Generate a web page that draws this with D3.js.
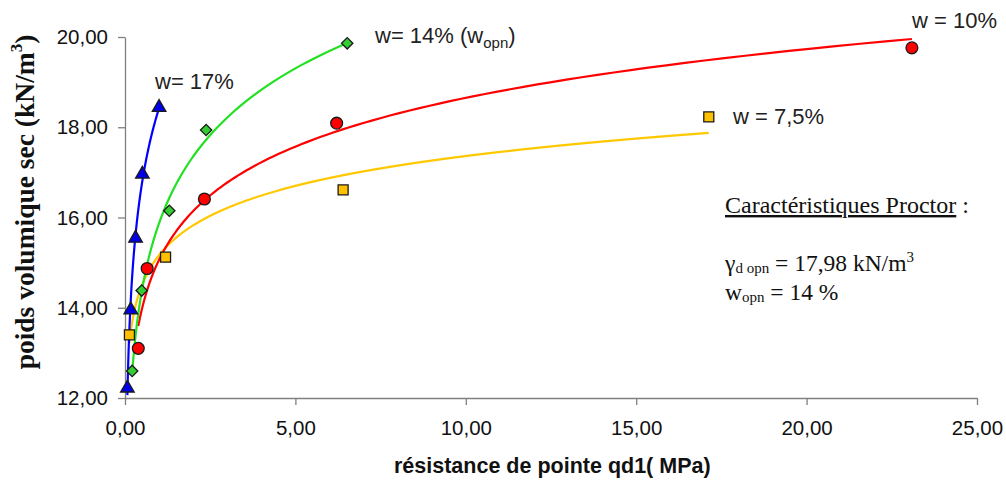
<!DOCTYPE html>
<html lang="fr">
<head>
  <meta charset="utf-8">
  <script src="https://d3js.org/d3.v7.min.js"></script>
  <style>
    body { margin: 0; background: #fff; }
    .axis path, .axis line { stroke: #808080; stroke-width: 1.3; }
    .axis text { font-family: "Liberation Sans", Arial, sans-serif; font-size: 20.5px; fill: #111; }
    .lbl { font-family: "Liberation Sans", Arial, sans-serif; font-size: 22px; fill: #222; }
    .serif { font-family: "Liberation Serif", "Times New Roman", serif; fill: #111; }
  </style>
</head>
<body>
<svg id="chart" width="1006" height="480"></svg>
<script>
  // Data (x: MPa, y: kN/m3)
  const w17x = [0.07, 0.17, 0.31, 0.51, 1.00];
  const w17y = [12.22, 13.95, 15.54, 16.96, 18.44];
  const w14x = [0.21, 0.49, 1.30, 2.38, 6.52];
  const w14y = [12.60, 14.38, 16.15, 17.94, 19.86];
  const w10x = [0.39, 0.65, 2.33, 6.21, 23.09];
  const w10y = [13.10, 14.87, 16.41, 18.09, 19.76];
  const w75x = [0.13, 1.19, 6.40, 17.13];
  const w75y = [13.40, 15.12, 16.61, 18.23];

  const xTicks = [0, 5, 10, 15, 20, 25];
  const yTicks = [12, 14, 16, 18, 20];

  const margin = { top: 37, right: 29, bottom: 82, left: 125 };
  const svgWidth = 1006, svgHeight = 480;
  const width = svgWidth - margin.left - margin.right;
  const height = svgHeight - margin.top - margin.bottom;

  const svg = d3.select("#chart");
  const g = svg.append("g").attr("transform", `translate(${margin.left},${margin.top})`);

  const x = d3.scaleLinear().domain([0, 25]).range([0, width]);
  const y = d3.scaleLinear().domain([12, 20]).range([height, 0]);

  const fr = d3.formatLocale({ decimal: ",", thousands: " ", grouping: [3], currency: ["", " €"] });
  const fmt = fr.format(".2f");

  // axes
  g.append("g")
    .attr("class", "axis")
    .attr("transform", `translate(0,${height})`)
    .call(d3.axisBottom(x).tickValues(xTicks).tickFormat(fmt).tickSize(7).tickSizeOuter(0))
    .selectAll("text").attr("dy", "1.3em");

  g.append("g")
    .attr("class", "axis")
    .call(d3.axisLeft(y).tickValues(yTicks).tickFormat(fmt).tickSize(7).tickSizeOuter(0))
    .selectAll("text").attr("x", -17);

  // logarithmic trend line (least squares y = a ln x + b), like the spreadsheet trendline
  function logFit(xs, ys) {
    const lx = xs.map(Math.log);
    const mx = d3.mean(lx), my = d3.mean(ys);
    const a = d3.sum(lx, (v, i) => (v - mx) * (ys[i] - my)) / d3.sum(lx, v => (v - mx) * (v - mx));
    const b = my - a * mx;
    const lo = d3.min(xs), hi = d3.max(xs);
    return d3.range(0, 121).map(i => {
      const xv = lo * Math.pow(hi / lo, i / 120);
      return [xv, a * Math.log(xv) + b];
    });
  }

  const series = [
    { xs: w17x, ys: w17y, line: "#0000ff", fill: "#0000e6", shape: d3.symbolTriangle, size: 80, rot: 0 },
    { xs: w14x, ys: w14y, line: "#22e022", fill: "#33cc33", shape: d3.symbolSquare, size: 64, rot: 45 },
    { xs: w10x, ys: w10y, line: "#ff0000", fill: "#ff0000", shape: d3.symbolCircle, size: 110, rot: 0 },
    { xs: w75x, ys: w75y, line: "#ffc800", fill: "#ffc000", shape: d3.symbolSquare, size: 100, rot: 0 }
  ];

  const line = d3.line().x(d => x(d[0])).y(d => y(d[1]));

  series.slice().reverse().forEach(s => {
    g.append("path")
      .attr("d", line(logFit(s.xs, s.ys)))
      .attr("fill", "none")
      .attr("stroke", s.line)
      .attr("stroke-width", 2.2);
  });

  series.slice().reverse().forEach(s => {
    g.selectAll(null)
      .data(s.xs.map((v, i) => [v, s.ys[i]]))
      .join("path")
      .attr("transform", d => `translate(${x(d[0])},${y(d[1])}) rotate(${s.rot})`)
      .attr("d", d3.symbol().type(s.shape).size(s.size))
      .attr("fill", s.fill)
      .attr("stroke", "#1a1a1a")
      .attr("stroke-width", 1.3);
  });

  // series labels
  svg.append("text").attr("class", "lbl").attr("x", 155).attr("y", 89).text("w= 17%");
  const t14 = svg.append("text").attr("class", "lbl").attr("x", 375).attr("y", 43);
  t14.append("tspan").text("w= 14% (w");
  t14.append("tspan").attr("font-size", "15px").attr("dy", 5).text("opn");
  t14.append("tspan").attr("dy", -5).text(")");
  svg.append("text").attr("class", "lbl").attr("x", 912).attr("y", 28).text("w = 10%");
  svg.append("text").attr("class", "lbl").attr("x", 733).attr("y", 124).text("w = 7,5%");

  // Proctor box
  const p1 = svg.append("text").attr("class", "serif").attr("x", 725).attr("y", 213).attr("font-size", "24px");
  p1.append("tspan").attr("text-decoration", "underline").text("Caractéristiques Proctor");
  p1.append("tspan").text(" :");

  const p2 = svg.append("text").attr("class", "serif").attr("x", 725).attr("y", 271).attr("font-size", "23.5px");
  p2.append("tspan").text("γ");
  p2.append("tspan").attr("font-size", "15px").attr("dy", 2).text("d opn");
  p2.append("tspan").attr("dy", -2).text(" = 17,98 kN/m");
  p2.append("tspan").attr("font-size", "15px").attr("dy", -9).text("3");

  const p3 = svg.append("text").attr("class", "serif").attr("x", 725).attr("y", 300).attr("font-size", "23.5px");
  p3.append("tspan").text("w");
  p3.append("tspan").attr("font-size", "15px").attr("dy", 2).text("opn");
  p3.append("tspan").attr("dy", -2).text(" = 14 %");

  // axis titles
  svg.append("text")
    .attr("x", 394)
    .attr("y", 473)
    .attr("font-family", "'Liberation Sans', Arial, sans-serif")
    .attr("font-weight", "bold")
    .attr("font-size", "21.5px")
    .attr("fill", "#111")
    .text("résistance de pointe qd1( MPa)");

  const yt = svg.append("text")
    .attr("class", "serif")
    .attr("transform", "translate(34,202) rotate(-90)")
    .attr("text-anchor", "middle")
    .attr("font-weight", "bold")
    .attr("font-size", "27.5px");
  yt.append("tspan").text("poids volumique sec (kN/m");
  yt.append("tspan").attr("font-size", "17px").attr("dy", -12).text("3");
  yt.append("tspan").attr("dy", 12).text(")");
</script>
</body>
</html>
